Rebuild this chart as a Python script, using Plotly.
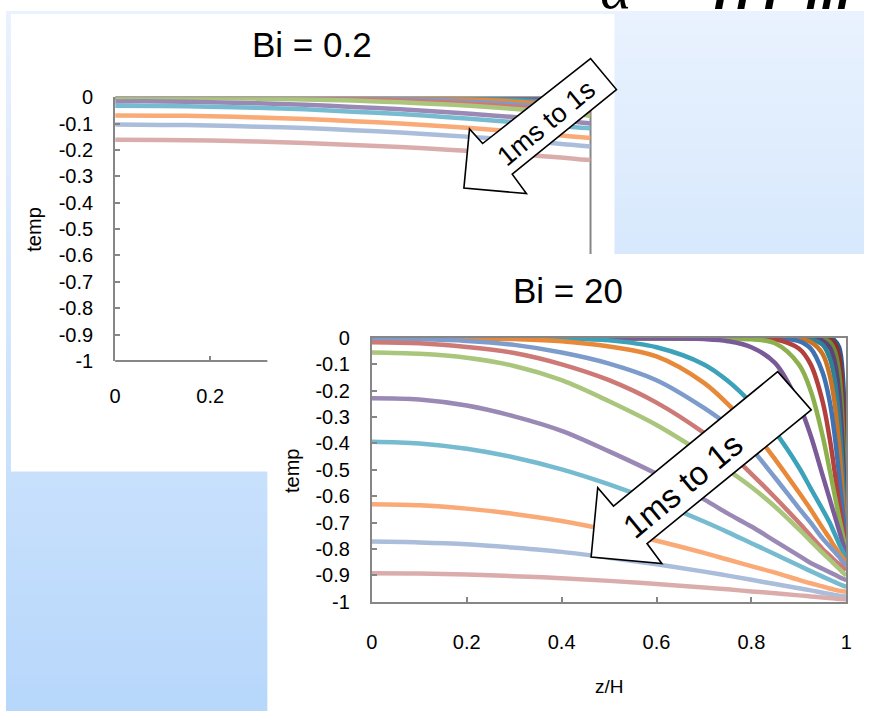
import plotly.graph_objects as go

# ---------------------------------------------------------------- canvas
W, H = 870, 721

# times of the plotted profiles (ms)
TIMES_MS = [1, 2, 3, 4, 5, 6, 7, 8, 9, 10, 20, 30, 50, 70, 100, 200, 300, 500, 700, 1000]

# one colour per time step (same in both panels)
COLORS = [
    "#2F5A8F", "#8E2E2B", "#6F8A38", "#5B4479", "#2D8296", "#CC7426",
    "#3F72B2", "#B2413D", "#8DB04F", "#7A5B98", "#3CA2BA", "#E8893A",
    "#7E9CCB", "#CD7A77", "#AAC67D", "#9B89B5", "#76BBD0", "#F9AA76",
    "#AABDDB", "#DBACAC",
]

# ---------------------------------------------------------------- Bi = 0.2
Z_BI02 = [0, 0.1, 0.2, 0.3, 0.4, 0.5, 0.6, 0.7, 0.8, 0.85, 0.9, 0.95, 0.975, 1.0]

bi02_1ms = [0, 0, 0, 0, 0, 0, 0, 0, 0, 0, -0.0001, -0.0014, -0.0035, -0.0075]
bi02_2ms = [0, 0, 0, 0, 0, 0, 0, 0, 0, 0, -0.0008, -0.0035, -0.0064, -0.0106]
bi02_3ms = [0, 0, 0, 0, 0, 0, 0, 0, 0, -0.0004, -0.0018, -0.0053, -0.0086, -0.013]
bi02_4ms = [0, 0, 0, 0, 0, 0, 0, 0, 0, -0.0009, -0.0029, -0.0071, -0.0105, -0.015]
bi02_5ms = [0, 0, 0, 0, 0, 0, 0, 0, -0.0004, -0.0015, -0.0039, -0.0087, -0.0122, -0.0167]
bi02_6ms = [0, 0, 0, 0, 0, 0, 0, 0, -0.0008, -0.0021, -0.0049, -0.01, -0.0137, -0.0183]
bi02_7ms = [0, 0, 0, 0, 0, 0, 0, 0, -0.0011, -0.0028, -0.0059, -0.0114, -0.0152, -0.0198]
bi02_8ms = [0, 0, 0, 0, 0, 0, 0, 0, -0.0016, -0.0034, -0.007, -0.0127, -0.0165, -0.0212]
bi02_9ms = [0, 0, 0, 0, 0, 0, 0, -0.0003, -0.002, -0.0042, -0.0079, -0.0139, -0.0177, -0.0224]
bi02_10ms = [0, 0, 0, 0, 0, 0, 0, -0.0005, -0.0025, -0.005, -0.0088, -0.015, -0.019, -0.0237]
bi02_20ms = [0, 0, 0, 0, 0, -0.0003, -0.0008, -0.0029, -0.0079, -0.0117, -0.0171, -0.0241, -0.0288, -0.0335]
bi02_30ms = [0, 0, 0, 0, -0.0004, -0.0011, -0.0027, -0.0062, -0.0129, -0.0178, -0.0245, -0.0318, -0.0363, -0.041]
bi02_50ms = [0, -0.0002, -0.0004, -0.0008, -0.002, -0.0039, -0.0074, -0.0135, -0.0223, -0.0282, -0.0354, -0.0436, -0.048, -0.053]
bi02_70ms = [-0.0004, -0.0007, -0.0013, -0.0025, -0.0044, -0.0077, -0.0128, -0.02, -0.0307, -0.037, -0.0447, -0.053, -0.0576, -0.0626]
bi02_100ms = [-0.002, -0.002, -0.003, -0.0055, -0.0087, -0.013, -0.0195, -0.028, -0.039, -0.046, -0.054, -0.062, -0.066, -0.071]
bi02_200ms = [-0.016, -0.016, -0.019, -0.023, -0.029, -0.037, -0.046, -0.057, -0.07, -0.077, -0.084, -0.091, -0.095, -0.10]
bi02_300ms = [-0.032, -0.033, -0.036, -0.04, -0.046, -0.055, -0.064, -0.076, -0.089, -0.096, -0.104, -0.111, -0.115, -0.118]
bi02_500ms = [-0.069, -0.07, -0.072, -0.077, -0.083, -0.091, -0.10, -0.111, -0.124, -0.131, -0.139, -0.147, -0.151, -0.155]
bi02_700ms = [-0.104, -0.105, -0.107, -0.112, -0.117, -0.125, -0.134, -0.145, -0.157, -0.164, -0.171, -0.179, -0.183, -0.187]
bi02_1000ms = [-0.161, -0.162, -0.164, -0.168, -0.174, -0.181, -0.189, -0.199, -0.211, -0.217, -0.224, -0.231, -0.235, -0.238]

# ---------------------------------------------------------------- Bi = 20
Z_BI20 = [0, 0.1, 0.2, 0.3, 0.4, 0.5, 0.6, 0.7, 0.75, 0.8, 0.85, 0.9, 0.925, 0.95,
          0.965, 0.975, 0.985, 0.993, 1.0]

bi20_1ms = [0, 0, 0, 0, 0, 0, 0, 0, 0, 0, 0, 0, 0, 0, 0, -0.008, -0.035, -0.15, -0.735]
bi20_2ms = [0, 0, 0, 0, 0, 0, 0, 0, 0, 0, 0, 0, 0, 0, -0.006, -0.02, -0.07, -0.24, -0.745]
bi20_3ms = [0, 0, 0, 0, 0, 0, 0, 0, 0, 0, 0, 0, 0, -0.003, -0.015, -0.045, -0.13, -0.34, -0.755]
bi20_4ms = [0, 0, 0, 0, 0, 0, 0, 0, 0, 0, 0, 0, -0.001, -0.01, -0.035, -0.085, -0.21, -0.44, -0.765]
bi20_5ms = [0, 0, 0, 0, 0, 0, 0, 0, 0, 0, 0, -0.001, -0.005, -0.025, -0.075, -0.15, -0.31, -0.53, -0.775]
bi20_6ms = [0, 0, 0, 0, 0, 0, 0, 0, 0, 0, 0, -0.004, -0.015, -0.06, -0.14, -0.24, -0.41, -0.6, -0.785]
bi20_7ms = [0, 0, 0, 0, 0, 0, 0, 0, 0, 0, -0.002, -0.012, -0.04, -0.13, -0.24, -0.36, -0.52, -0.66, -0.795]
bi20_8ms = [0, 0, 0, 0, 0, 0, 0, 0, 0, -0.001, -0.005, -0.04, -0.10, -0.24, -0.38, -0.50, -0.63, -0.72, -0.805]
bi20_9ms = [0, 0, 0, 0, 0, 0, 0, 0, -0.001, -0.005, -0.02, -0.10, -0.20, -0.37, -0.50, -0.59, -0.68, -0.75, -0.815]
bi20_10ms = [0, 0, 0, 0, 0, 0, 0, -0.004, -0.012, -0.035, -0.095, -0.25, -0.37, -0.52, -0.61, -0.67, -0.73, -0.78, -0.825]
bi20_20ms = [0, 0, 0, 0, -0.002, -0.009, -0.035, -0.10, -0.162, -0.247, -0.356, -0.49, -0.57, -0.65, -0.70, -0.74, -0.78, -0.81, -0.835]
bi20_30ms = [0, 0, -0.001, -0.004, -0.012, -0.032, -0.07, -0.17, -0.25, -0.345, -0.46, -0.585, -0.65, -0.72, -0.76, -0.79, -0.815, -0.835, -0.85]
bi20_50ms = [-0.004, -0.005, -0.011, -0.026, -0.055, -0.097, -0.16, -0.265, -0.33, -0.42, -0.53, -0.645, -0.70, -0.76, -0.79, -0.81, -0.83, -0.85, -0.864]
bi20_70ms = [-0.016, -0.02, -0.034, -0.057, -0.10, -0.16, -0.245, -0.36, -0.43, -0.515, -0.605, -0.70, -0.75, -0.80, -0.825, -0.842, -0.858, -0.87, -0.88]
bi20_100ms = [-0.055, -0.06, -0.075, -0.106, -0.16, -0.24, -0.33, -0.44, -0.50, -0.565, -0.64, -0.725, -0.77, -0.815, -0.84, -0.858, -0.875, -0.89, -0.90]
bi20_200ms = [-0.228, -0.233, -0.256, -0.297, -0.352, -0.43, -0.515, -0.612, -0.665, -0.715, -0.77, -0.825, -0.853, -0.875, -0.888, -0.897, -0.906, -0.913, -0.918]
bi20_300ms = [-0.393, -0.40, -0.42, -0.453, -0.498, -0.555, -0.621, -0.696, -0.736, -0.778, -0.82, -0.863, -0.884, -0.905, -0.917, -0.925, -0.933, -0.939, -0.944]
bi20_500ms = [-0.63, -0.634, -0.647, -0.667, -0.694, -0.729, -0.769, -0.815, -0.84, -0.865, -0.89, -0.917, -0.93, -0.942, -0.95, -0.954, -0.958, -0.96, -0.962]
bi20_700ms = [-0.772, -0.775, -0.782, -0.795, -0.811, -0.833, -0.858, -0.886, -0.901, -0.917, -0.933, -0.949, -0.957, -0.966, -0.971, -0.974, -0.977, -0.979, -0.98]
bi20_1000ms = [-0.892, -0.893, -0.897, -0.903, -0.911, -0.921, -0.933, -0.946, -0.953, -0.961, -0.968, -0.976, -0.98, -0.984, -0.986, -0.988, -0.99, -0.991, -0.992]

BI02_SERIES = [bi02_1ms, bi02_2ms, bi02_3ms, bi02_4ms, bi02_5ms, bi02_6ms, bi02_7ms,
               bi02_8ms, bi02_9ms, bi02_10ms, bi02_20ms, bi02_30ms, bi02_50ms,
               bi02_70ms, bi02_100ms, bi02_200ms, bi02_300ms, bi02_500ms,
               bi02_700ms, bi02_1000ms]
BI20_SERIES = [bi20_1ms, bi20_2ms, bi20_3ms, bi20_4ms, bi20_5ms, bi20_6ms, bi20_7ms,
               bi20_8ms, bi20_9ms, bi20_10ms, bi20_20ms, bi20_30ms, bi20_50ms,
               bi20_70ms, bi20_100ms, bi20_200ms, bi20_300ms, bi20_500ms,
               bi20_700ms, bi20_1000ms]

Y_TICKS = [0, -0.1, -0.2, -0.3, -0.4, -0.5, -0.6, -0.7, -0.8, -0.9, -1]
Y_TICKTEXT = ["0", "-0.1", "-0.2", "-0.3", "-0.4", "-0.5", "-0.6", "-0.7", "-0.8", "-0.9", "-1"]
X_TICKS = [0, 0.2, 0.4, 0.6, 0.8, 1]
X_TICKTEXT = ["0", "0.2", "0.4", "0.6", "0.8", "1"]


# ---------------------------------------------------------------- helpers
def fx(px):
    return px / W


def fy(py):
    return 1 - py / H


def mix(c1, c2, t):
    a = [int(c1[i:i + 2], 16) for i in (1, 3, 5)]
    b = [int(c2[i:i + 2], 16) for i in (1, 3, 5)]
    return "#" + "".join(f"{round(a[k] + (b[k] - a[k]) * t):02X}" for k in range(3))


FONT = "Liberation Sans, Arial, sans-serif"
AXIS_GRAY = "#868686"

# plot areas (pixels)
P1 = dict(x0=110.7, x1=592.7, y0=88.9, y1=360.9)
P2 = dict(x0=371.0, x1=852.0, y0=337.3, y1=609.3)

fig = go.Figure()

for i, (t, ys) in enumerate(zip(TIMES_MS, BI02_SERIES)):
    fig.add_trace(go.Scatter(
        x=Z_BI02, y=ys, mode="lines", name=f"{t} ms",
        line=dict(color=COLORS[i], width=4.5, shape="spline", smoothing=0.8),
        xaxis="x", yaxis="y", showlegend=False, hoverinfo="skip"))

for i, (t, ys) in enumerate(zip(TIMES_MS, BI20_SERIES)):
    fig.add_trace(go.Scatter(
        x=Z_BI20, y=ys, mode="lines", name=f"{t} ms",
        line=dict(color=COLORS[i], width=4.5, shape="spline", smoothing=1.0),
        xaxis="x2", yaxis="y2", showlegend=False, hoverinfo="skip"))

# ---------------------------------------------------------------- backdrop
shapes = []
N_STRIPS = 60
for k in range(N_STRIPS):
    y0 = H * k / N_STRIPS
    y1 = H * (k + 1) / N_STRIPS + 1
    shapes.append(dict(type="rect", xref="paper", yref="paper", layer="below",
                       x0=0, x1=1, y0=fy(y1), y1=fy(y0), line_width=0,
                       fillcolor=mix("#E9F2FE", "#B7D7FB", (k + 0.5) / N_STRIPS)))

# white card of the Bi = 0.2 panel
shapes.append(dict(type="rect", xref="paper", yref="paper", layer="below",
                   x0=fx(5), x1=fx(617), y0=fy(475), y1=fy(3),
                   line_width=0, fillcolor="white"))
# frame pieces of the Bi = 0.2 panel that remain uncovered
frame = dict(color=AXIS_GRAY, width=2)
shapes.append(dict(type="line", xref="paper", yref="paper", layer="below",
                   x0=fx(P1["x0"]), x1=fx(P1["x1"]), y0=fy(P1["y0"]), y1=fy(P1["y0"]), line=frame))
shapes.append(dict(type="line", xref="paper", yref="paper", layer="below",
                   x0=fx(P1["x1"]), x1=fx(P1["x1"]), y0=fy(P1["y0"]), y1=fy(P1["y1"]), line=frame))
shapes.append(dict(type="line", xref="paper", yref="paper", layer="below",
                   x0=fx(P1["x0"]), x1=fx(P1["x1"]), y0=fy(P1["y1"]), y1=fy(P1["y1"]), line=frame))
# white card of the Bi = 20 panel, laid over the first one
shapes.append(dict(type="rect", xref="paper", yref="paper", layer="below",
                   x0=fx(265), x1=fx(880), y0=fy(730), y1=fy(250.7),
                   line_width=0, fillcolor="white"))


def arrow_path(pts):
    return "M " + " L ".join(f"{fx(x):.5f},{fy(y):.5f}" for x, y in pts) + " Z"


ARROW1 = [(592.7, 49), (619, 81), (513.3, 168.3), (527.7, 188.3),
          (464.3, 182.7), (470, 121.7), (483.3, 136.7)]
ARROW2 = [(782.5, 372), (816.5, 411.5), (650, 549.3), (665, 570),
          (593.3, 563.3), (600, 491.7), (616, 510.7)]
for pts in (ARROW1, ARROW2):
    shapes.append(dict(type="path", xref="paper", yref="paper", layer="above",
                       path=arrow_path(pts), fillcolor="white",
                       line=dict(color="black", width=1.6)))

# ---------------------------------------------------------------- text
ann = []


def label(x, y, text, size, angle=0, **kw):
    ann.append(dict(x=fx(x), y=fy(y), xref="paper", yref="paper", text=text,
                    showarrow=False, textangle=angle, xanchor=kw.get("xanchor", "center"),
                    yanchor=kw.get("yanchor", "middle"),
                    font=dict(family=kw.get("family", FONT), size=size,
                              color=kw.get("color", "black"))))


label(310, 35, "Bi = 0.2", 35)
label(570, 288, "Bi = 20", 35)
label(29, 226, "temp", 20, angle=-90)
label(289.5, 475, "temp", 20, angle=-90)
label(611.5, 697, "z/H", 19)
label(548, 116, "1ms to 1s", 27, angle=-39.5)
label(686, 489, "1ms to 1s", 33, angle=-39.7)
# lower edge of the slide heading peeking in at the top
label(600, 12, "<i>α</i>", 60, family="Liberation Serif, serif", xanchor="left", yanchor="bottom")
label(716, 11, "<i><b>H I  m</b></i>", 50, xanchor="left", yanchor="bottom")

# ---------------------------------------------------------------- axes
tickfont = dict(family=FONT, size=20, color="black")
common_y = dict(range=[-1, 0], tickvals=Y_TICKS, ticktext=Y_TICKTEXT, ticks="inside",
                ticklen=5, tickwidth=1.5, tickcolor=AXIS_GRAY, showgrid=False,
                zeroline=False, tickfont=tickfont, ticklabelstandoff=16, fixedrange=True)

fig.update_layout(
    width=W, height=H, margin=dict(l=0, r=0, t=0, b=0),
    paper_bgcolor="white", plot_bgcolor="rgba(0,0,0,0)",
    shapes=shapes, annotations=ann, showlegend=False,
    xaxis=dict(domain=[fx(P1["x0"]), fx(P1["x1"])], range=[0, 1], anchor="y",
               tickvals=[0, 0.2], ticktext=["0", "0.2"], ticks="inside", ticklen=5,
               tickwidth=1.5, tickcolor=AXIS_GRAY, showline=False, showgrid=False,
               zeroline=False, tickfont=tickfont, ticklabelstandoff=21, fixedrange=True),
    yaxis=dict(domain=[fy(P1["y1"]), fy(P1["y0"])], anchor="x", showline=True,
               linecolor=AXIS_GRAY, linewidth=2, **common_y),
    xaxis2=dict(domain=[fx(P2["x0"]), fx(P2["x1"])], range=[0, 1], anchor="y2",
                tickvals=X_TICKS, ticktext=X_TICKTEXT, ticks="inside", ticklen=5,
                tickwidth=1.5, tickcolor=AXIS_GRAY, showline=True, mirror=True,
                linecolor=AXIS_GRAY, linewidth=2, showgrid=False, zeroline=False,
                tickfont=tickfont, ticklabelstandoff=21, fixedrange=True),
    yaxis2=dict(domain=[fy(P2["y1"]), fy(P2["y0"])], anchor="x2", showline=True,
                mirror=True, linecolor=AXIS_GRAY, linewidth=2, **common_y),
)

fig.write_html("out.html", config={"displayModeBar": False})
